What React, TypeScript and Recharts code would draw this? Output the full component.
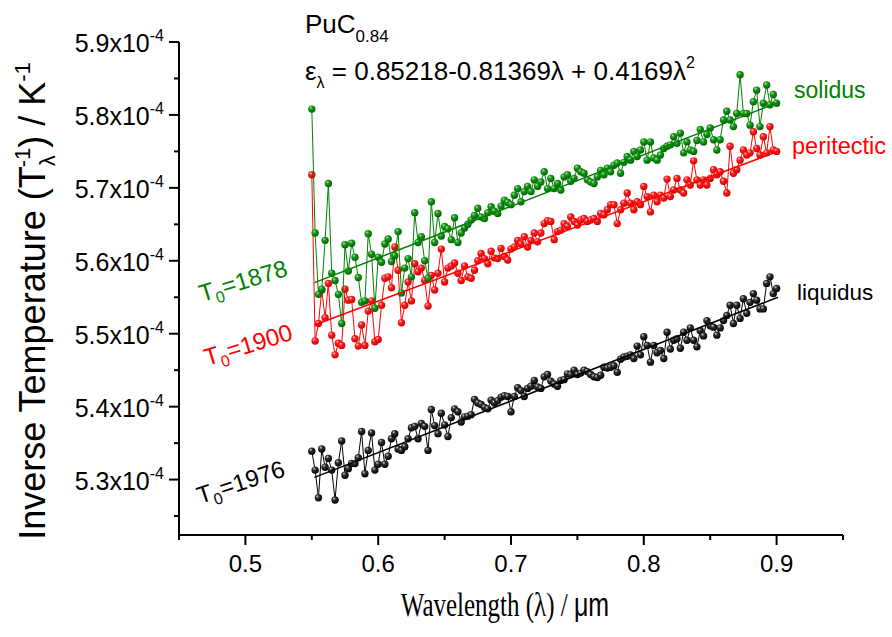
import React from 'react';
import { ComposedChart, Scatter, XAxis, YAxis } from 'recharts';

// wavelength grid (µm) shared by the three measured curves
const wavelength = [
  0.55, 0.5525, 0.555, 0.5575, 0.56, 0.5625, 0.565, 0.5675, 0.57, 0.5725,
  0.575, 0.5775, 0.58, 0.5825, 0.585, 0.5875, 0.59, 0.5925, 0.595, 0.5975,
  0.6, 0.6025, 0.605, 0.6075, 0.61, 0.6125, 0.615, 0.6175, 0.62, 0.6225,
  0.625, 0.6275, 0.63, 0.6325, 0.635, 0.6375, 0.64, 0.6425, 0.645, 0.6475,
  0.65, 0.6525, 0.655, 0.6575, 0.66, 0.6625, 0.665, 0.6675, 0.67, 0.6725,
  0.675, 0.6775, 0.68, 0.6825, 0.685, 0.6875, 0.69, 0.6925, 0.695, 0.6975,
  0.7, 0.7025, 0.705, 0.7075, 0.71, 0.7125, 0.715, 0.7175, 0.72, 0.7225,
  0.725, 0.7275, 0.73, 0.7325, 0.735, 0.7375, 0.74, 0.7425, 0.745, 0.7475,
  0.75, 0.7525, 0.755, 0.7575, 0.76, 0.7625, 0.765, 0.7675, 0.77, 0.7725,
  0.775, 0.7775, 0.78, 0.7825, 0.785, 0.7875, 0.79, 0.7925, 0.795, 0.7975,
  0.8, 0.8025, 0.805, 0.8075, 0.81, 0.8125, 0.815, 0.8175, 0.82, 0.8225,
  0.825, 0.8275, 0.83, 0.8325, 0.835, 0.8375, 0.84, 0.8425, 0.845, 0.8475,
  0.85, 0.8525, 0.855, 0.8575, 0.86, 0.8625, 0.865, 0.8675, 0.87, 0.8725,
  0.875, 0.8775, 0.88, 0.8825, 0.885, 0.8875, 0.89, 0.8925, 0.895, 0.8975,
  0.9,
];

// inverse temperature, units of 1e-4 K^-1
const solidus = [
  5.808, 5.638, 5.554, 5.561, 5.628, 5.706, 5.583, 5.573, 5.554, 5.514,
  5.622, 5.586, 5.624, 5.605, 5.577, 5.543, 5.545, 5.637, 5.609, 5.535,
  5.605, 5.598, 5.623, 5.63, 5.599, 5.607, 5.64, 5.556, 5.59, 5.603,
  5.578, 5.666, 5.625, 5.633, 5.6, 5.576, 5.681, 5.625, 5.665, 5.634,
  5.647, 5.644, 5.629, 5.659, 5.625, 5.638, 5.645, 5.65, 5.656, 5.662,
  5.672, 5.66, 5.658, 5.666, 5.674, 5.668, 5.665, 5.675, 5.683, 5.68,
  5.677, 5.69, 5.699, 5.681, 5.695, 5.702, 5.695, 5.711, 5.702, 5.708,
  5.722, 5.699, 5.713, 5.699, 5.706, 5.697, 5.715, 5.718, 5.709, 5.713,
  5.727, 5.722, 5.72, 5.711, 5.708, 5.706, 5.715, 5.724, 5.718, 5.727,
  5.722, 5.731, 5.734, 5.72, 5.735, 5.743, 5.738, 5.75, 5.743, 5.752,
  5.763, 5.738, 5.763, 5.741, 5.738, 5.745, 5.754, 5.757, 5.759, 5.77,
  5.761, 5.775, 5.748, 5.763, 5.752, 5.75, 5.765, 5.78, 5.763, 5.773,
  5.782, 5.766, 5.752, 5.766, 5.793, 5.805, 5.793, 5.784, 5.802, 5.855,
  5.802, 5.802, 5.786, 5.818, 5.834, 5.784, 5.816, 5.841, 5.814, 5.828,
  5.816,
];

const peritectic = [
  5.718, 5.49, 5.514, 5.56, 5.522, 5.569, 5.498, 5.471, 5.487, 5.484,
  5.561, 5.546, 5.547, 5.493, 5.483, 5.512, 5.484, 5.531, 5.545, 5.489,
  5.492, 5.539, 5.576, 5.578, 5.563, 5.619, 5.587, 5.515, 5.539, 5.571,
  5.545, 5.596, 5.585, 5.59, 5.573, 5.538, 5.58, 5.56, 5.583, 5.616,
  5.571, 5.59, 5.593, 5.597, 5.583, 5.573, 5.593, 5.578, 5.576, 5.587,
  5.6, 5.61, 5.603, 5.596, 5.613, 5.604, 5.603, 5.617, 5.606, 5.601,
  5.616, 5.619, 5.628, 5.623, 5.633, 5.619, 5.628, 5.638, 5.626, 5.638,
  5.651, 5.655, 5.654, 5.629, 5.64, 5.642, 5.651, 5.647, 5.66, 5.654,
  5.649, 5.656, 5.658, 5.654, 5.656, 5.658, 5.654, 5.665, 5.663, 5.67,
  5.677, 5.677, 5.651, 5.67, 5.679, 5.693, 5.679, 5.67, 5.681, 5.677,
  5.702, 5.688, 5.667, 5.69, 5.681, 5.69, 5.686, 5.712, 5.688, 5.697,
  5.713, 5.697, 5.693, 5.711, 5.704, 5.737, 5.711, 5.704, 5.711, 5.704,
  5.713, 5.725, 5.718, 5.722, 5.709, 5.693, 5.757, 5.72, 5.725, 5.738,
  5.752, 5.745, 5.748, 5.777, 5.754, 5.745, 5.77, 5.748, 5.784, 5.752,
  5.75,
];

const liquidus = [
  5.339, 5.313, 5.275, 5.342, 5.317, 5.329, 5.313, 5.272, 5.323, 5.353,
  5.306, 5.315, 5.322, 5.322, 5.33, 5.366, 5.308, 5.34, 5.364, 5.313,
  5.321, 5.351, 5.321, 5.332, 5.356, 5.363, 5.342, 5.34, 5.345, 5.356,
  5.371, 5.373, 5.356, 5.377, 5.373, 5.34, 5.396, 5.374, 5.363, 5.391,
  5.375, 5.359, 5.385, 5.397, 5.393, 5.379, 5.386, 5.387, 5.389, 5.41,
  5.405, 5.403, 5.399, 5.397, 5.409, 5.405, 5.408, 5.413, 5.415, 5.414,
  5.393, 5.414, 5.426, 5.422, 5.414, 5.425, 5.428, 5.436, 5.427, 5.425,
  5.441, 5.444, 5.435, 5.431, 5.428, 5.436, 5.437, 5.445, 5.444, 5.45,
  5.444, 5.446, 5.45, 5.448, 5.444, 5.441, 5.44, 5.443, 5.454, 5.453,
  5.454, 5.456, 5.447, 5.465, 5.468, 5.469, 5.471, 5.466, 5.483, 5.471,
  5.496, 5.484, 5.461, 5.484, 5.474, 5.477, 5.466, 5.502, 5.479, 5.491,
  5.493, 5.48, 5.502, 5.491, 5.508, 5.491, 5.482, 5.504, 5.497, 5.518,
  5.511, 5.509, 5.498, 5.508, 5.518, 5.525, 5.539, 5.514, 5.539, 5.521,
  5.548, 5.528, 5.543, 5.555, 5.546, 5.534, 5.534, 5.569, 5.578, 5.555,
  5.562,
];

// linear fits (end points)
const fitX = [0.552, 0.901];
const solidusFit = [5.57, 5.817];
const peritecticFit = [5.512, 5.75];
const liquidusFit = [5.303, 5.55];

const xTicks = [0.45, 0.5, 0.55, 0.6, 0.65, 0.7, 0.75, 0.8, 0.85, 0.9, 0.95];
const yTicks = [5.25, 5.3, 5.35, 5.4, 5.45, 5.5, 5.55, 5.6, 5.65, 5.7, 5.75, 5.8, 5.85, 5.9];

const GREEN = '#008000';
const RED = '#ff0000';
const BLACK = '#000000';
const SANS = '"Liberation Sans", Arial, sans-serif';
const SERIF = '"Liberation Serif", "Times New Roman", serif';

const toPoints = (ys: number[]) => ys.map((y, i) => ({ x: wavelength[i], y }));
const toFit = (ys: number[]) => ys.map((y, i) => ({ x: fitX[i], y }));

const isMajor = (v: number) => Math.abs(v * 10 - Math.round(v * 10)) < 1e-6;

const XTick = (props: any) => {
  const { x, y, payload } = props;
  const major = isMajor(payload.value);
  return (
    <g>
      <line x1={x} y1={y} x2={x} y2={y + (major ? 10 : 5)} stroke="#000" strokeWidth={2} />
      {major && (
        <text x={x} y={y + 37} textAnchor="middle" fontSize={24} fontFamily={SANS} fill="#000">
          {payload.value.toFixed(1)}
        </text>
      )}
    </g>
  );
};

const YTick = (props: any) => {
  const { x, y, payload } = props;
  const major = isMajor(payload.value);
  return (
    <g>
      <line x1={x} y1={y} x2={x - (major ? 10 : 5)} y2={y} stroke="#000" strokeWidth={2} />
      {major && (
        <text x={x - 15} y={y + 10} textAnchor="end" fontSize={25} fontFamily={SANS} fill="#000">
          {payload.value.toFixed(1)}x10
          <tspan fontSize={16} dy={-11}>-4</tspan>
        </text>
      )}
    </g>
  );
};

const ball = (id: string) => (props: any) => (
  <circle cx={props.cx} cy={props.cy} r={3.7} fill={`url(#${id})`} />
);
const noDot = () => <g />;

export default function App() {
  return (
    <div style={{ position: 'absolute', left: 0, top: 0, width: 892, height: 637, background: '#fff' }}>
      <svg width={0} height={0} style={{ position: 'absolute' }}>
        <defs>
          <radialGradient id="ballG" cx="40%" cy="35%" r="65%" fx="35%" fy="30%">
            <stop offset="0%" stopColor="#a8e8a8" />
            <stop offset="35%" stopColor="#1a9a1a" />
            <stop offset="100%" stopColor="#006000" />
          </radialGradient>
          <radialGradient id="ballR" cx="40%" cy="35%" r="65%" fx="35%" fy="30%">
            <stop offset="0%" stopColor="#ffc8c8" />
            <stop offset="35%" stopColor="#ff2020" />
            <stop offset="100%" stopColor="#d00000" />
          </radialGradient>
          <radialGradient id="ballK" cx="40%" cy="35%" r="65%" fx="35%" fy="30%">
            <stop offset="0%" stopColor="#d0d0d0" />
            <stop offset="35%" stopColor="#303030" />
            <stop offset="100%" stopColor="#000000" />
          </radialGradient>
        </defs>
      </svg>
      <ComposedChart width={892} height={637} margin={{ top: 42, right: 49, bottom: 0, left: 0 }}>
        <XAxis
          type="number"
          dataKey="x"
          domain={[0.45, 0.95]}
          ticks={xTicks}
          interval={0}
          tick={XTick}
          tickLine={false}
          tickSize={0}
          tickMargin={0}
          axisLine={{ stroke: '#000', strokeWidth: 2 }}
          height={102}
          allowDataOverflow
        />
        <YAxis
          type="number"
          dataKey="y"
          domain={[5.224, 5.9]}
          ticks={yTicks}
          interval={0}
          tick={YTick}
          tickLine={false}
          tickSize={0}
          tickMargin={0}
          axisLine={{ stroke: '#000', strokeWidth: 2 }}
          width={179}
          allowDataOverflow
        />
        <Scatter data={toPoints(peritectic)} line={{ stroke: RED, strokeWidth: 1 }} shape={ball('ballR')} isAnimationActive={false} />
        <Scatter data={toPoints(solidus)} line={{ stroke: GREEN, strokeWidth: 1 }} shape={ball('ballG')} isAnimationActive={false} />
        <Scatter data={toPoints(liquidus)} line={{ stroke: BLACK, strokeWidth: 1 }} shape={ball('ballK')} isAnimationActive={false} />
        <Scatter data={toFit(peritecticFit)} line={{ stroke: RED, strokeWidth: 1.5 }} shape={noDot} isAnimationActive={false} />
        <Scatter data={toFit(solidusFit)} line={{ stroke: GREEN, strokeWidth: 1.5 }} shape={noDot} isAnimationActive={false} />
        <Scatter data={toFit(liquidusFit)} line={{ stroke: BLACK, strokeWidth: 1.5 }} shape={noDot} isAnimationActive={false} />
      </ComposedChart>
      <svg width={892} height={637} style={{ position: 'absolute', left: 0, top: 0, pointerEvents: 'none' }}>
        <text x={305} y={33} fontSize={26} fontFamily={SANS} fill="#000">
          PuC<tspan fontSize={17} dy={9}>0.84</tspan>
        </text>
        <text x={305} y={80} fontSize={26} fontFamily={SANS} fill="#000">
          ε<tspan fontSize={16} dy={8}>λ</tspan>
          <tspan dy={-8}> = 0.85218-0.81369λ + 0.4169λ</tspan>
          <tspan fontSize={16} dy={-12}>2</tspan>
        </text>
        <text x={794} y={98} fontSize={23} fontFamily={SANS} fill={GREEN}>solidus</text>
        <text x={792} y={154} fontSize={23.5} fontFamily={SANS} fill={RED}>peritectic</text>
        <text x={797} y={300} fontSize={22.5} fontFamily={SANS} fill={BLACK}>liquidus</text>

        <text x={202} y={302} fontSize={24} fontFamily={SANS} fill={GREEN} transform="rotate(-17 202 302)">
          T<tspan fontSize={16} dy={6}>0</tspan>
          <tspan dy={-6}>=1878</tspan>
        </text>
        <text x={207} y={366} fontSize={24} fontFamily={SANS} fill={RED} transform="rotate(-17 207 366)">
          T<tspan fontSize={16} dy={6}>0</tspan>
          <tspan dy={-6}>=1900</tspan>
        </text>
        <text x={200} y={504} fontSize={24} fontFamily={SANS} fill={BLACK} transform="rotate(-18 200 504)">
          T<tspan fontSize={16} dy={6}>0</tspan>
          <tspan dy={-6}>=1976</tspan>
        </text>

        <text transform="rotate(-90)" x={-301} y={45} textAnchor="middle" fontSize={36} fontFamily={SANS} fill="#000">
          Inverse Temperature (T<tspan fontSize={22} dy={10}>λ</tspan>
          <tspan fontSize={22} dx={-12} dy={-25}>-1</tspan>
          <tspan dy={15}>) / K</tspan>
          <tspan fontSize={22} dy={-15}>-1</tspan>
        </text>
        <text transform="translate(505 616) scale(1 1.35)" x={0} y={0} textAnchor="middle" fontSize={25} fill="#000">
          <tspan fontFamily={SERIF}>Wavelength (λ) / </tspan>
          <tspan fontFamily={SANS}>μm</tspan>
        </text>
      </svg>
    </div>
  );
}
